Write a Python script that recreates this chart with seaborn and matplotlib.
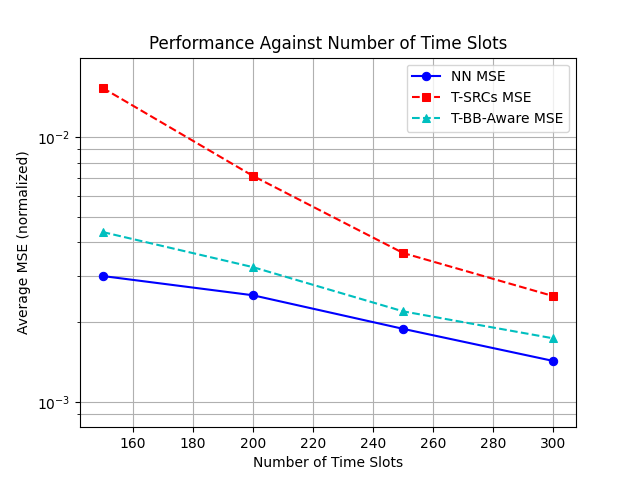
import matplotlib
matplotlib.use('Agg')
import matplotlib.pyplot as plt
import seaborn as sns
import pandas as pd

time_slots = [150, 200, 250, 300]
nn_mse = [0.00299, 0.00253, 0.00189, 0.00143]
tsrc_mse = [0.0153, 0.00713, 0.00365, 0.00251]
tbb_mse = [0.00438, 0.00323, 0.00220, 0.00174]

df = pd.DataFrame({'slots': time_slots, 'nn': nn_mse, 'tsrc': tsrc_mse, 'tbb': tbb_mse})

fig, ax = plt.subplots(figsize=(6.4, 4.8), dpi=100)
sns.lineplot(data=df, x='slots', y='nn', ax=ax, color='b', marker='o', markeredgecolor='b',
             linestyle='-', label='NN MSE')
sns.lineplot(data=df, x='slots', y='tsrc', ax=ax, color='r', marker='s', markeredgecolor='r',
             linestyle='--', label='T-SRCs MSE')
sns.lineplot(data=df, x='slots', y='tbb', ax=ax, color='c', marker='^', markeredgecolor='c',
             linestyle='--', label='T-BB-Aware MSE')
ax.set_yscale('log')
ax.set_ylim(8.05e-4, 1.99e-2)
ax.grid(True, which='both')
ax.set_xlabel('Number of Time Slots')
ax.set_ylabel('Average MSE (normalized)')
ax.set_title('Performance Against Number of Time Slots')
ax.legend(loc='upper right')
fig.savefig('out.png')
